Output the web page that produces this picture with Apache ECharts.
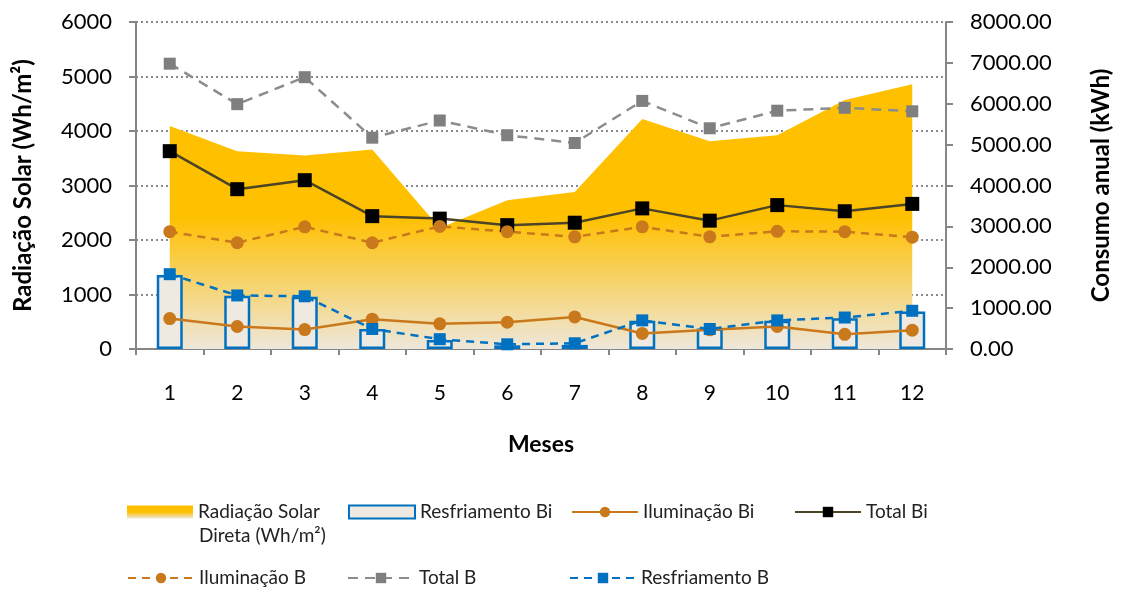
<!DOCTYPE html>
<html>
<head>
<meta charset="utf-8">
<script src="https://cdn.jsdelivr.net/npm/echarts@6/dist/echarts.min.js"></script>
<style>
  html, body { margin: 0; padding: 0; background: #fff; }
  #chart1 { width: 1121px; height: 592px; }
</style>
</head>
<body>
<div id="chart1"></div>
<script>
const meses = ['1', '2', '3', '4', '5', '6', '7', '8', '9', '10', '11', '12']

// Radiação solar direta (Wh/m²) - eixo esquerdo
const radiacaoSolar = [4090, 3630, 3550, 3660, 2220, 2730, 2880, 4220, 3810, 3920, 4570, 4860]

// consumo (kWh) - eixo direito
const resfriamentoBi = [1810, 1300, 1280, 490, 220, 90, 100, 690, 500, 690, 750, 920]
const iluminacaoBi = [745, 550, 475, 730, 615, 655, 785, 380, 470, 550, 360, 460]
const totalBi = [4840, 3910, 4130, 3250, 3190, 3030, 3090, 3440, 3140, 3520, 3370, 3550]
const iluminacaoB = [2870, 2600, 2990, 2600, 3000, 2870, 2745, 2990, 2745, 2880, 2870, 2735]
const totalB = [6980, 5990, 6650, 5170, 5590, 5230, 5040, 6070, 5400, 5830, 5900, 5815]
const resfriamentoB = [1830, 1310, 1290, 490, 240, 115, 140, 700, 490, 700, 770, 935]

const fonte = 'Lato, "Open Sans", sans-serif'
const nomeRadiacao = 'Radiação Solar Direta (Wh/m²)'

const gradArea = new echarts.graphic.LinearGradient(0, 0, 0, 1, [
  { offset: 0, color: '#FFC000' },
  { offset: 0.5, color: '#FFC000' },
  { offset: 1, color: '#EEE7DB' }
])

const legendaItem = (nome, left, top) => ({
  data: [nome],
  left: left,
  top: top,
  padding: 0,
  itemWidth: 66,
  itemHeight: 13,
  textStyle: { fontFamily: fonte, fontSize: 19, color: '#222', lineHeight: 22 }
})

const getOptionChart1 = () => {
  return {
    animation: false,
    textStyle: { fontFamily: fonte },
    grid: { left: 136, right: 169, top: 22, bottom: 243 },
    legend: [
      Object.assign(legendaItem(nomeRadiacao, 127, 501), {
        icon: 'rect',
        formatter: () => 'Radiação Solar'
      }),
      Object.assign(legendaItem('Resfriamento Bi', 348, 501), { icon: 'rect' }),
      legendaItem('Iluminação Bi', 571, 501),
      legendaItem('Total Bi', 794, 501),
      legendaItem('Iluminação B', 127, 567),
      legendaItem('Total B', 347, 567),
      legendaItem('Resfriamento B', 569, 567)
    ],
    graphic: [
      {
        type: 'text',
        left: 199,
        top: 526,
        style: { text: 'Direta (Wh/m²)', fontFamily: fonte, fontSize: 19, fill: '#222' }
      }
    ],
    xAxis: {
      type: 'category',
      data: meses,
      boundaryGap: true,
      name: 'Meses',
      nameLocation: 'middle',
      nameGap: 84,
      nameTextStyle: { fontFamily: fonte, fontSize: 23, fontWeight: 'bold', color: '#000' },
      axisLine: { lineStyle: { color: '#868686', width: 2 } },
      axisTick: { show: true, length: 6, lineStyle: { color: '#868686', width: 2 } },
      axisLabel: { margin: 34, fontFamily: fonte, fontSize: 21, color: '#000' }
    },
    yAxis: [
      {
        type: 'value',
        min: 0,
        max: 6000,
        interval: 1000,
        name: 'Radiação Solar (Wh/m²)',
        nameLocation: 'middle',
        nameGap: 101,
        nameRotate: 90,
        nameTextStyle: { fontFamily: fonte, fontSize: 24, fontWeight: 'bold', color: '#000' },
        axisLine: { show: true, lineStyle: { color: '#868686', width: 2 } },
        axisTick: { show: true, length: 7, lineStyle: { color: '#868686', width: 2 } },
        axisLabel: { margin: 24, fontFamily: fonte, fontSize: 22, color: '#000', formatter: (v) => String(v) },
        splitLine: { show: true, lineStyle: { color: '#8a8a8a', width: 2, type: [2, 3] } }
      },
      {
        type: 'value',
        min: 0,
        max: 8000,
        interval: 1000,
        name: 'Consumo anual (kWh)',
        nameLocation: 'middle',
        nameGap: 143,
        nameRotate: 90,
        nameTextStyle: { fontFamily: fonte, fontSize: 24, fontWeight: 'bold', color: '#000' },
        axisLine: { show: true, lineStyle: { color: '#868686', width: 2 } },
        axisTick: { show: true, length: 7, lineStyle: { color: '#868686', width: 2 } },
        axisLabel: { margin: 24, fontFamily: fonte, fontSize: 22, color: '#000', formatter: (v) => v.toFixed(2) },
        splitLine: { show: false }
      }
    ],
    series: [
      {
        name: nomeRadiacao,
        type: 'line',
        yAxisIndex: 0,
        data: radiacaoSolar,
        showSymbol: false,
        symbol: 'none',
        lineStyle: { width: 0, color: '#FFC000' },
        itemStyle: { color: gradArea },
        areaStyle: { color: gradArea, opacity: 1 },
        z: 1
      },
      {
        name: 'Resfriamento Bi',
        type: 'bar',
        yAxisIndex: 1,
        data: resfriamentoBi,
        barWidth: 26,
        itemStyle: { color: '#EEEAE2', borderColor: '#0070C0', borderWidth: 2.5 },
        z: 2
      },
      {
        name: 'Iluminação Bi',
        type: 'line',
        yAxisIndex: 1,
        data: iluminacaoBi,
        symbol: 'circle',
        symbolSize: 13,
        lineStyle: { color: '#C9781B', width: 2.5 },
        itemStyle: { color: '#C9781B' },
        z: 3
      },
      {
        name: 'Total Bi',
        type: 'line',
        yAxisIndex: 1,
        data: totalBi,
        symbol: 'rect',
        symbolSize: 14,
        lineStyle: { color: '#4B4426', width: 2.5 },
        itemStyle: { color: '#000' },
        z: 3
      },
      {
        name: 'Iluminação B',
        type: 'line',
        yAxisIndex: 1,
        data: iluminacaoB,
        symbol: 'circle',
        symbolSize: 13,
        lineStyle: { color: '#C9781B', width: 2.5, type: [8, 6] },
        itemStyle: { color: '#C9781B' },
        z: 3
      },
      {
        name: 'Total B',
        type: 'line',
        yAxisIndex: 1,
        data: totalB,
        symbol: 'rect',
        symbolSize: 12,
        lineStyle: { color: '#8C8C8C', width: 2.5, type: [10, 7] },
        itemStyle: { color: '#7F7F7F' },
        z: 3
      },
      {
        name: 'Resfriamento B',
        type: 'line',
        yAxisIndex: 1,
        data: resfriamentoB,
        symbol: 'rect',
        symbolSize: 12,
        lineStyle: { color: '#0070C0', width: 2.5, type: [8, 6] },
        itemStyle: { color: '#0070C0' },
        z: 4
      }
    ]
  }
}

const chart1 = echarts.init(document.getElementById('chart1'))
chart1.setOption(getOptionChart1())
</script>
</body>
</html>
